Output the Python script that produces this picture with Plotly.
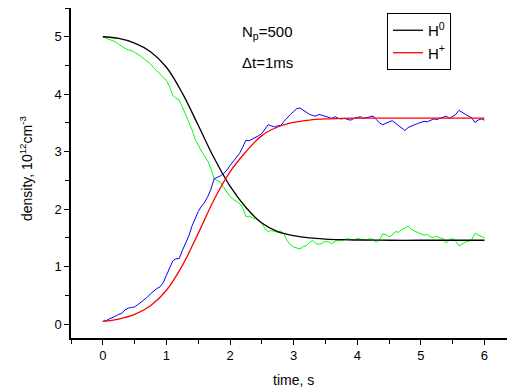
import plotly.graph_objects as go

# smooth model curves
t_model = [0.0, 0.25, 0.5, 0.75, 1.0, 1.25, 1.5, 1.75, 2.0, 2.25, 2.5, 2.75, 3.0,
           3.25, 3.5, 3.75, 4.0, 4.5, 5.0, 5.5, 6.0]
h0_model = [5.00, 4.97, 4.89, 4.74, 4.47, 4.02, 3.46, 2.89, 2.40, 2.03, 1.76, 1.61, 1.54,
            1.50, 1.48, 1.47, 1.465, 1.46, 1.46, 1.46, 1.46]
hp_model = [0.05, 0.09, 0.17, 0.32, 0.59, 1.02, 1.58, 2.17, 2.65, 3.00, 3.28, 3.43, 3.51,
            3.55, 3.57, 3.58, 3.585, 3.585, 3.585, 3.585, 3.585]

# simulated (noisy) curves, sampled every 0.05 s
t_sim = [round(i * 0.05, 2) for i in range(121)]
h0_sim = [5.00, 4.98, 4.96, 4.94, 4.91, 4.87, 4.83, 4.80, 4.77, 4.76,
          4.73, 4.70, 4.66, 4.61, 4.57, 4.53, 4.46, 4.41, 4.35, 4.29,
          4.24, 4.13, 3.98, 3.93, 3.90, 3.78, 3.66, 3.54, 3.39, 3.22,
          3.10, 3.01, 2.92, 2.84, 2.70, 2.53, 2.50, 2.47, 2.38, 2.30,
          2.22, 2.17, 2.14, 2.10, 2.02, 1.87, 1.88, 1.85, 1.83, 1.81,
          1.76, 1.66, 1.61, 1.63, 1.61, 1.60, 1.62, 1.57, 1.45, 1.38,
          1.34, 1.32, 1.31, 1.35, 1.37, 1.42, 1.46, 1.40, 1.39, 1.41,
          1.44, 1.43, 1.40, 1.44, 1.46, 1.45, 1.47, 1.49, 1.47, 1.46,
          1.49, 1.48, 1.47, 1.46, 1.49, 1.47, 1.43, 1.47, 1.57, 1.56,
          1.52, 1.55, 1.61, 1.60, 1.65, 1.67, 1.71, 1.65, 1.62, 1.60,
          1.57, 1.55, 1.56, 1.52, 1.51, 1.53, 1.50, 1.49, 1.41, 1.47,
          1.49, 1.44, 1.36, 1.40, 1.43, 1.44, 1.47, 1.58, 1.55, 1.52,
          1.50]
hp_sim = [0.05, 0.06, 0.09, 0.11, 0.14, 0.17, 0.19, 0.25, 0.28, 0.29,
          0.30, 0.34, 0.38, 0.43, 0.47, 0.53, 0.58, 0.62, 0.65, 0.72,
          0.85, 0.98, 1.10, 1.14, 1.14, 1.28, 1.40, 1.53, 1.70, 1.84,
          1.96, 2.05, 2.12, 2.22, 2.35, 2.53, 2.55, 2.58, 2.62, 2.68,
          2.76, 2.83, 2.90, 2.97, 3.08, 3.20, 3.19, 3.22, 3.24, 3.28,
          3.32, 3.40, 3.47, 3.45, 3.43, 3.45, 3.46, 3.53, 3.60, 3.65,
          3.70, 3.75, 3.76, 3.72, 3.68, 3.65, 3.63, 3.62, 3.65, 3.63,
          3.61, 3.60, 3.58, 3.61, 3.58, 3.57, 3.58, 3.56, 3.55, 3.58,
          3.60, 3.61, 3.58, 3.59, 3.60, 3.62, 3.56, 3.50, 3.47, 3.50,
          3.52, 3.54, 3.50, 3.45, 3.41, 3.37, 3.42, 3.45, 3.47, 3.49,
          3.51, 3.53, 3.52, 3.55, 3.57, 3.56, 3.58, 3.60, 3.62, 3.58,
          3.61, 3.65, 3.72, 3.68, 3.65, 3.62, 3.59, 3.51, 3.55, 3.57,
          3.55]

x_ticks = [0, 1, 2, 3, 4, 5, 6]
y_ticks = [0, 1, 2, 3, 4, 5]

FONT = "Liberation Sans, Arial, sans-serif"
OFF = 8  # page body margin
W, H = 515 - OFF, 392 - OFF
L, T, PW, PH = 71 - OFF, 8 - OFF, 444, 330

fig = go.Figure()
fig.add_trace(go.Scatter(x=t_sim, y=h0_sim, mode="lines", showlegend=False,
                         line=dict(color="#00ff00", width=1)))
fig.add_trace(go.Scatter(x=t_sim, y=hp_sim, mode="lines", showlegend=False,
                         line=dict(color="#0000ff", width=1)))
fig.add_trace(go.Scatter(x=t_model, y=h0_model, mode="lines", name="H<sup>0</sup>",
                         line=dict(color="black", width=1.3, shape="spline")))
fig.add_trace(go.Scatter(x=t_model, y=hp_model, mode="lines", name="H<sup>+</sup>",
                         line=dict(color="#ff0000", width=1.3, shape="spline")))


def px_x(p):
    return (p - OFF - L) / PW


def px_y(p):
    return (T + PH - (p - OFF)) / PH


fig.update_layout(
    width=W, height=H,
    margin=dict(l=L, r=W - L - PW, t=T, b=H - T - PH, autoexpand=False),
    paper_bgcolor="white", plot_bgcolor="white",
    font=dict(family=FONT, size=13, color="black"),
    legend=dict(x=px_x(387), y=px_y(13), xanchor="left", yanchor="top",
                bordercolor="black", borderwidth=1, bgcolor="white",
                font=dict(size=15), itemwidth=30),
    xaxis=dict(range=[-0.5, 6.48], tickvals=x_ticks, showgrid=False, zeroline=False,
               automargin=False,
               showline=True, linecolor="black", linewidth=1.5,
               ticks="outside", ticklen=5, tickwidth=1.2, tickcolor="black",
               minor=dict(dtick=0.5, tick0=0, ticks="outside", ticklen=4, tickcolor="black", tickwidth=1.2)),
    yaxis=dict(range=[-0.24, 5.5], tickvals=y_ticks, showgrid=False, zeroline=False,
               automargin=False,
               showline=True, linecolor="black", linewidth=1.5,
               ticks="outside", ticklen=5, tickwidth=1.2, tickcolor="black",
               minor=dict(dtick=0.5, tick0=0, ticks="outside", ticklen=4, tickcolor="black", tickwidth=1.2)),
    annotations=[
        dict(text="N<sub>p</sub>=500", xref="paper", yref="paper",
             x=px_x(240), y=px_y(32), xanchor="left", yanchor="middle",
             showarrow=False, font=dict(size=15)),
        dict(text="Δt=1ms", xref="paper", yref="paper",
             x=px_x(240), y=px_y(62), xanchor="left", yanchor="middle",
             showarrow=False, font=dict(size=15)),
        dict(text="time, s", xref="paper", yref="paper",
             x=px_x(293), y=px_y(380), xanchor="center", yanchor="middle",
             showarrow=False, font=dict(size=14)),
        dict(text="density, 10<sup>12</sup>cm<sup>-3</sup>", xref="paper", yref="paper",
             x=px_x(26), y=px_y(168), xanchor="center", yanchor="middle", textangle=-90,
             showarrow=False, font=dict(size=14)),
    ],
)

fig.write_html("out.html")
